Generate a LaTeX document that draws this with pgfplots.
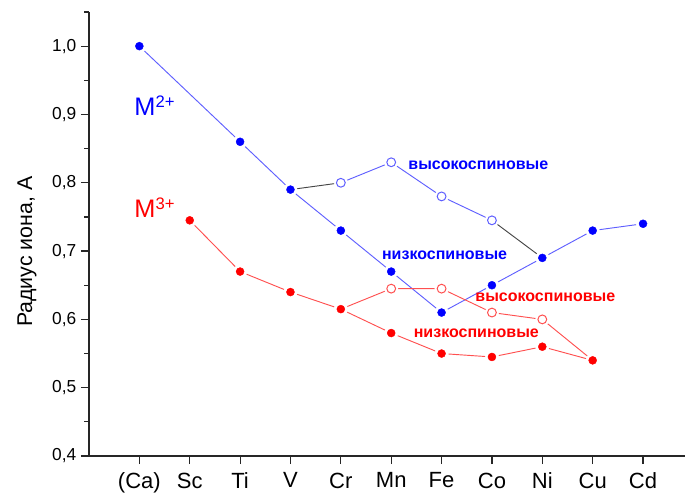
\documentclass[border=0pt]{standalone}
\usepackage{pgfplots}
\pgfplotsset{compat=1.18}
\usepackage{fontspec}
\setmainfont{Liberation Sans}
\definecolor{bl}{RGB}{0,0,255}
\definecolor{bline}{RGB}{95,95,255}
\definecolor{rd}{RGB}{255,0,0}
\definecolor{rline}{RGB}{255,80,80}
\definecolor{gl}{RGB}{70,70,70}
\begin{document}
\begin{tikzpicture}
\useasboundingbox (-66.75pt,-30pt) rectangle (447pt,342pt);
\begin{axis}[
  at={(0,0)}, anchor=south west,
  scale only axis, width=447pt, height=333pt,
  xmin=-1, xmax=10.833, ymin=0.4, ymax=1.05,
  axis x line=bottom, axis y line=left,
  axis line style={-, line width=1pt, black!85},
  xtick={0,...,10},
  xticklabels={(Ca),Sc,Ti,V,Cr,Mn,Fe,Co,Ni,Cu,Cd},
  ytick={0.4,0.5,...,1.0},
  minor ytick={0.45,0.55,...,1.06},
  tick align=outside,
  major tick length=6pt, minor tick length=3.5pt,
  tick style={line width=0.9pt, black!85},
  x tick label style={font=\fontsize{16.5}{18}\selectfont, yshift=-3pt},
  y tick label style={font=\fontsize{13}{15}\selectfont},
  /pgf/number format/.cd, use comma, fixed, fixed zerofill, precision=1, assume math mode=true,
  /pgfplots/.cd,
  ylabel={Радиус иона, А},
  every axis y label/.style={at={(rel axis cs:0,0.46)}, xshift=-46.5pt, rotate=90, anchor=center, font=\fontsize{16}{18}\selectfont},
  clip=false,
]
% ---- lines ----
\addplot[bline, line width=0.7pt, no markers] coordinates {(0,1.0) (2,0.86) (3,0.79) (4,0.73) (5,0.67) (6,0.61) (7,0.65) (8,0.69) (9,0.73) (10,0.74)};
\addplot[bline, line width=0.7pt, no markers] coordinates {(4,0.80) (5,0.83) (6,0.78) (7,0.745)};
\addplot[gl, line width=0.7pt, no markers] coordinates {(3,0.79) (4,0.80)};
\addplot[gl, line width=0.7pt, no markers] coordinates {(7,0.745) (8,0.69)};
\addplot[rline, line width=0.7pt, no markers] coordinates {(1,0.745) (2,0.67) (3,0.64) (4,0.615) (5,0.58) (6,0.55) (7,0.545) (8,0.56) (9,0.54)};
\addplot[rline, line width=0.7pt, no markers] coordinates {(4,0.615) (5,0.645) (6,0.645) (7,0.61) (8,0.60) (9,0.54)};
% ---- halos ----
\addplot[white, only marks, mark=*, mark size=5pt, mark options={fill=white, draw=white}] coordinates {(0,1.0) (2,0.86) (3,0.79) (4,0.73) (5,0.67) (6,0.61) (7,0.65) (8,0.69) (9,0.73) (10,0.74) (4,0.80) (5,0.83) (6,0.78) (7,0.745) (1,0.745) (2,0.67) (3,0.64) (4,0.615) (5,0.58) (6,0.55) (7,0.545) (8,0.56) (9,0.54) (5,0.645) (6,0.645) (7,0.61) (8,0.60)};
% ---- marks ----
\addplot[bl, only marks, mark=*, mark size=3pt, mark options={fill=bl, draw=bl, line width=0.3pt}] coordinates {(0,1.0) (2,0.86) (3,0.79) (4,0.73) (5,0.67) (6,0.61) (7,0.65) (8,0.69) (9,0.73) (10,0.74)};
\addplot[bline, only marks, mark=o, mark size=3.3pt, mark options={fill=white, draw=bline, line width=0.75pt}] coordinates {(4,0.80) (5,0.83) (6,0.78) (7,0.745)};
\addplot[rd, only marks, mark=*, mark size=3pt, mark options={fill=rd, draw=rd, line width=0.3pt}] coordinates {(1,0.745) (2,0.67) (3,0.64) (4,0.615) (5,0.58) (6,0.55) (7,0.545) (8,0.56) (9,0.54)};
\addplot[rline, only marks, mark=o, mark size=3.3pt, mark options={fill=white, draw=rline, line width=0.75pt}] coordinates {(5,0.645) (6,0.645) (7,0.61) (8,0.60)};
% ---- labels ----
\node[text=bl, font=\fontsize{19}{21}\selectfont, anchor=center] at (axis cs:0.3,0.913) {M\raisebox{0.32em}{\fontsize{12.5}{14}\selectfont 2+}};
\node[text=rd, font=\fontsize{19}{21}\selectfont, anchor=center] at (axis cs:0.3,0.763) {M\raisebox{0.32em}{\fontsize{12.5}{14}\selectfont 3+}};
\node[text=bl, font=\bfseries\fontsize{12}{14}\selectfont] at (axis cs:6.73,0.825) {высокоспиновые};
\node[text=bl, font=\bfseries\fontsize{12}{14}\selectfont] at (axis cs:6.06,0.694) {низкоспиновые};
\node[text=rd, font=\bfseries\fontsize{12}{14}\selectfont] at (axis cs:8.06,0.633) {высокоспиновые};
\node[text=rd, font=\bfseries\fontsize{12}{14}\selectfont] at (axis cs:6.69,0.58) {низкоспиновые};
\end{axis}
\end{tikzpicture}
\end{document}
